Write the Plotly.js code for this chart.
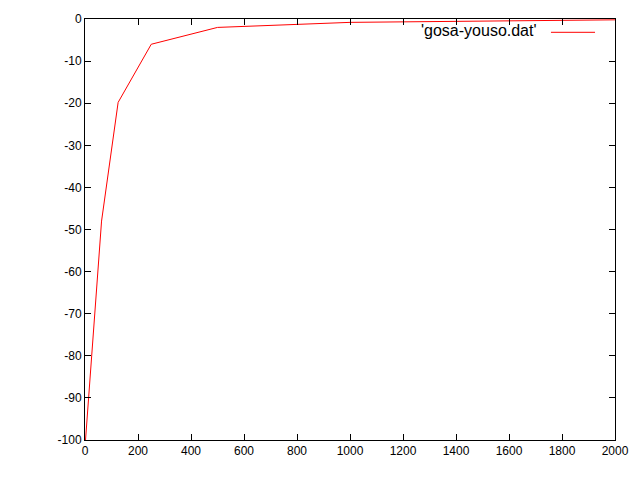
<!DOCTYPE html>
<html>
<head>
<meta charset="utf-8">
<script src="https://cdn.plot.ly/plotly-3.0.1.min.js"></script>
<style>html,body{margin:0;padding:0;background:#fff;}#chart{width:640px;height:480px;}</style>
</head>
<body>
<div id="chart"></div>
<script>
// data
const elements = [2, 31.25, 62.5, 125, 250, 500, 1000, 2000];
const errors   = [-100, -75, -48, -19.8, -6.0, -2.0, -0.8, -0.2];
const seriesName = "'gosa-youso.dat'";
const xTicks = [0, 200, 400, 600, 800, 1000, 1200, 1400, 1600, 1800, 2000];
const yTicks = [-100, -90, -80, -70, -60, -50, -40, -30, -20, -10, 0];

const FONT = 'Liberation Sans, Arial, sans-serif';
const trace = {
  x: elements, y: errors, type: 'scatter', mode: 'lines',
  name: seriesName, line: {color: '#ff0000', width: 1}, showlegend: false
};
const axisCommon = {
  showgrid: false, zeroline: false, showline: true, mirror: 'ticks',
  linecolor: '#000', linewidth: 1, ticks: 'inside', ticklen: 6, tickcolor: '#000',
  tickfont: {family: FONT, size: 12, color: '#000'}
};
const layout = {
  width: 640, height: 480,
  margin: {l: 85, r: 25, t: 19, b: 40},
  paper_bgcolor: '#fff', plot_bgcolor: '#fff',
  xaxis: Object.assign({}, axisCommon, {range: [0, 2000], tickvals: xTicks, ticktext: xTicks.map(String)}),
  yaxis: Object.assign({}, axisCommon, {range: [-100, 0], tickvals: yTicks, ticktext: yTicks.map(String)}),
  showlegend: false,
  // gnuplot-style key: title text followed by a line sample
  annotations: [{
    xref: 'paper', yref: 'paper', x: 0.8566, y: 0.9715,
    xanchor: 'right', yanchor: 'middle', showarrow: false,
    text: seriesName, font: {family: FONT, size: 16, color: '#000'}
  }],
  shapes: [{
    type: 'line', xref: 'paper', yref: 'paper',
    x0: 0.8792, x1: 0.9623, y0: 0.9684, y1: 0.9684,
    line: {color: '#ff0000', width: 1}
  }]
};
Plotly.newPlot('chart', [trace], layout, {displayModeBar: false, staticPlot: true});
</script>
</body>
</html>
